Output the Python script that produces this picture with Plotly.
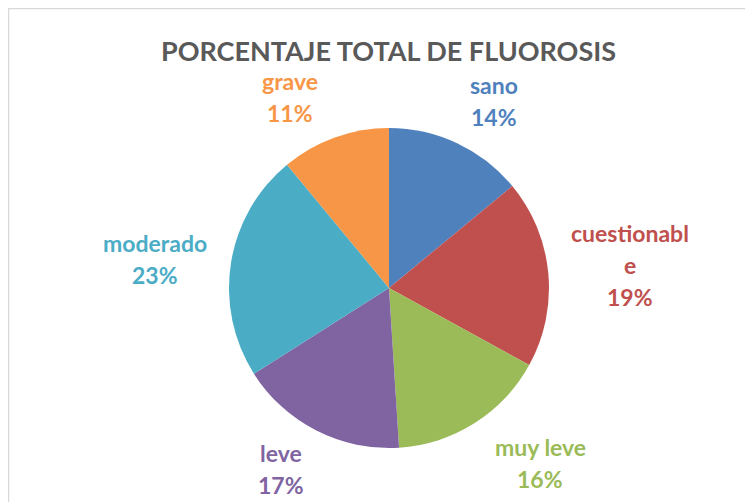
import plotly.graph_objects as go

categories = ["sano", "cuestionable", "muy leve", "leve", "moderado", "grave"]
values = [14, 19, 16, 17, 23, 11]
colors = ["#4F81BD", "#C0504D", "#9BBB59", "#8064A2", "#4BACC6", "#F79646"]
title_text = "PORCENTAJE TOTAL DE FLUOROSIS"

# label line layouts (pixel centres of first text line in the reference) -- layout only
label_lines = {
    "sano": (["sano"], (494, 85)),
    "cuestionable": (["cuestionabl", "e"], (630, 233)),
    "muy leve": (["muy leve"], (540, 447)),
    "leve": (["leve"], (281, 453)),
    "moderado": (["moderado"], (155, 243)),
    "grave": (["grave"], (290, 81)),
}

OFF = 8  # page body margin offset
W, H = 753 - OFF, 502 - OFF
cx, cy, r = 389 - OFF, 288 - OFF, 160
LINE = 32
FONT = "Lato, 'Open Sans', sans-serif"

fig = go.Figure(go.Pie(
    labels=categories,
    values=values,
    sort=False,
    direction="clockwise",
    rotation=0,
    marker=dict(colors=colors, line=dict(width=0)),
    textinfo="none",
    hoverinfo="skip",
    showlegend=False,
    domain=dict(x=[(cx - r) / W, (cx + r) / W], y=[1 - (cy + r) / H, 1 - (cy - r) / H]),
))

total = sum(values)
annotations = []
for cat, val, col in zip(categories, values, colors):
    lines, (px, py) = label_lines[cat]
    lines = lines + [f"{round(100 * val / total)}%"]
    for i, t in enumerate(lines):
        annotations.append(dict(
            x=(px - OFF) / W, y=1 - (py - OFF + i * LINE) / H, xref="paper", yref="paper",
            text=f"<b>{t}</b>", showarrow=False, xanchor="center", yanchor="middle",
            font=dict(family=FONT, size=23, color=col),
        ))

annotations.append(dict(
    x=(388 - OFF) / W, y=1 - (50 - OFF) / H, xref="paper", yref="paper",
    text=f"<b>{title_text}</b>", showarrow=False, xanchor="center", yanchor="middle",
    font=dict(family=FONT, size=27, color="#595959"),
))

fig.update_layout(
    width=W, height=H,
    margin=dict(l=0, r=0, t=0, b=0),
    paper_bgcolor="white", plot_bgcolor="white",
    annotations=annotations,
    shapes=[
        dict(type="rect", xref="paper", yref="paper", x0=0.5 / W, x1=1.05, y0=-0.05, y1=1 - 0.5 / H,
             line=dict(color="#D9D9D9", width=1.5), fillcolor="rgba(0,0,0,0)"),
    ],
)

fig.write_html("out.html")
